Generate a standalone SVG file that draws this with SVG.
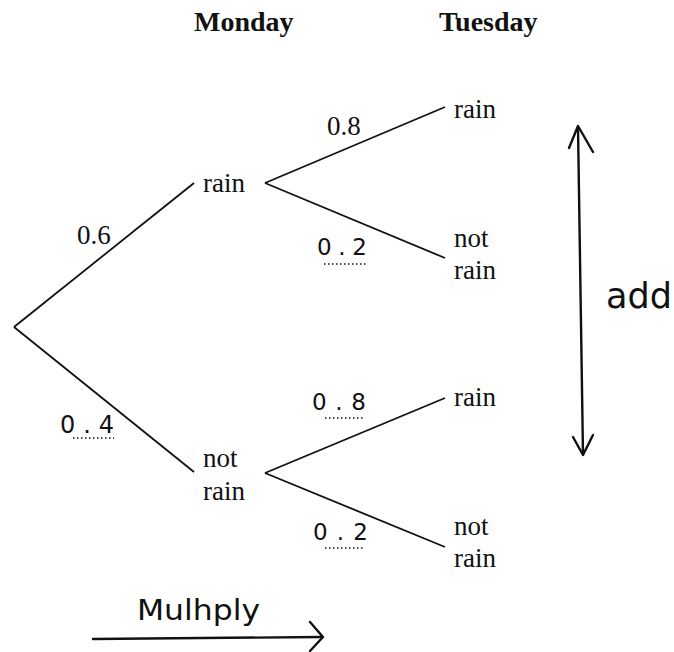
<svg xmlns="http://www.w3.org/2000/svg" width="674" height="652" viewBox="0 0 674 652">
<defs>
<style>
.t{font-family:"Liberation Serif","Times New Roman",serif;font-size:27px;fill:#111}
.h{font-family:"Liberation Serif","Times New Roman",serif;font-size:28px;font-weight:bold;fill:#111}
.w{font-family:"DejaVu Sans","Liberation Sans",sans-serif;fill:#111}
.ln{stroke:#111;stroke-width:1.8;fill:none}
.hw{stroke:#111;stroke-width:2.4;fill:none;stroke-linecap:round;stroke-linejoin:round}
.dot{stroke:#111;stroke-width:1.4;stroke-dasharray:1.5 2.5;fill:none}
</style>
</defs>
<rect width="674" height="652" fill="#fff"/>
<g id="headers">
<text class="h" x="194" y="31">Monday</text>
<text class="h" x="439" y="31">Tuesday</text>
</g>
<g id="connectors">
<line class="ln" x1="14" y1="327" x2="194" y2="183"/>
<line class="ln" x1="14" y1="327" x2="194" y2="472"/>
<line class="ln" x1="265" y1="183" x2="445" y2="107"/>
<line class="ln" x1="265" y1="183" x2="445" y2="258"/>
<line class="ln" x1="265" y1="473" x2="445" y2="398"/>
<line class="ln" x1="265" y1="473" x2="445" y2="547"/>
</g>
<g id="labels">
<text class="t" x="77" y="244">0.6</text>
<text class="t" x="327" y="135">0.8</text>
<g id="p02a"><text class="w" x="317" y="255" font-size="23" textLength="50" lengthAdjust="spacing">0.2</text><line class="dot" x1="324" y1="264" x2="366" y2="264"/></g>
<g id="p04"><text class="w" x="60" y="433" font-size="24" textLength="54" lengthAdjust="spacing">0.4</text><line class="dot" x1="73" y1="438" x2="114" y2="438"/></g>
<g id="p08b"><text class="w" x="312" y="410" font-size="23" textLength="54" lengthAdjust="spacing">0.8</text><line class="dot" x1="325" y1="418" x2="363" y2="418"/></g>
<g id="p02b"><text class="w" x="313" y="540" font-size="23" textLength="55" lengthAdjust="spacing">0.2</text><line class="dot" x1="325" y1="548" x2="364" y2="548"/></g>
</g>
<g id="n-mon-rain"><text class="t" x="203" y="192">rain</text></g>
<g id="n-mon-notrain"><text class="t" x="203" y="467">not</text><text class="t" x="203" y="500">rain</text></g>
<g id="n-tue-rain1"><text class="t" x="454" y="118">rain</text></g>
<g id="n-tue-notrain1"><text class="t" x="454" y="247">not</text><text class="t" x="454" y="279">rain</text></g>
<g id="n-tue-rain2"><text class="t" x="454" y="406">rain</text></g>
<g id="n-tue-notrain2"><text class="t" x="454" y="535">not</text><text class="t" x="454" y="567">rain</text></g>
<g id="add">
<line class="hw" x1="578" y1="127" x2="583" y2="454"/>
<polyline class="hw" points="569,148 578,126 593,152"/>
<polyline class="hw" points="573,437 583,455 593,435"/>
<text class="w" x="606" y="308" font-size="36" textLength="66" lengthAdjust="spacingAndGlyphs">add</text>
</g>
<g id="multiply">
<line class="hw" x1="93" y1="639" x2="321" y2="637"/>
<polyline class="hw" points="310,622 323,637 310,651"/>
<text class="w" x="137" y="620" font-size="28" textLength="123" lengthAdjust="spacingAndGlyphs">Mulhply</text>
</g>
</svg>
